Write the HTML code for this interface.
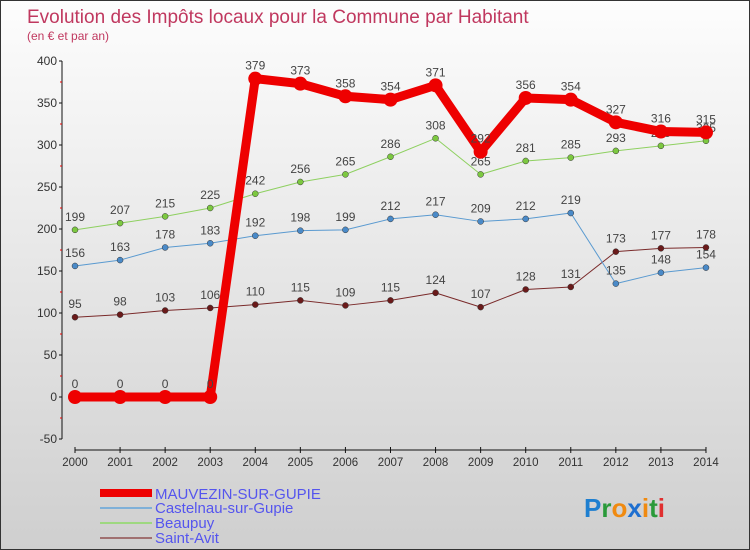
<!DOCTYPE html>
<html><head><meta charset="utf-8"><style>
body{margin:0}
#wrap{position:relative;width:748px;height:548px;border:1px solid #333;background:linear-gradient(#fdfdfd,#e6e6e6 50%,#cfcfcf);font-family:"Liberation Sans",sans-serif;overflow:hidden}
</style></head><body>
<div id="wrap">
<svg id="svg" width="748" height="548">
<text x="26" y="22" font-size="19" fill="#c0385f">Evolution des Impôts locaux pour la Commune par Habitant</text>
<text x="26" y="39" font-size="12" fill="#c0385f">(en € et par an)</text>
<g id="axes"></g><g id="series"></g>
<g>
<rect x="99" y="488" width="52" height="8" fill="#e00"/>
<text x="154" y="498" font-size="15" fill="#5555ee">MAUVEZIN-SUR-GUPIE</text>
<rect x="99" y="506" width="52" height="2" fill="#7fb0d8"/>
<text x="154" y="512" font-size="15" fill="#5555ee">Castelnau-sur-Gupie</text>
<rect x="99" y="521" width="52" height="2" fill="#9ed880"/>
<text x="154" y="527" font-size="15" fill="#5555ee">Beaupuy</text>
<rect x="99" y="536" width="52" height="2" fill="#a07070"/>
<text x="154" y="542" font-size="15" fill="#5555ee">Saint-Avit</text>
</g>
<text x="583" y="516" font-size="26" font-weight="bold"><tspan fill="#1e7fd0">P</tspan><tspan fill="#2a9a3a">r</tspan><tspan fill="#f08a10">o</tspan><tspan fill="#1e6fd0">x</tspan><tspan fill="#f08a10">i</tspan><tspan fill="#2a9a3a">t</tspan><tspan fill="#e03030">i</tspan></text>
</svg></div>
<script>
const years=[2000,2001,2002,2003,2004,2005,2006,2007,2008,2009,2010,2011,2012,2013,2014];
const mauvezin=[0,0,0,0,379,373,358,354,371,292,356,354,327,316,315];
const castelnau=[156,163,178,183,192,198,199,212,217,209,212,219,135,148,154];
const beaupuy=[199,207,215,225,242,256,265,286,308,265,281,285,293,299,305];
const saintAvit=[95,98,103,106,110,115,109,115,124,107,128,131,173,177,178];
const yTicks=[-50,0,50,100,150,200,250,300,350,400];
const NS="http://www.w3.org/2000/svg";
const X=i=>74+i*45.07, Y=v=>396-v*0.84;
function mk(p,t,a){const e=document.createElementNS(NS,t);for(const k in a)e.setAttribute(k,a[k]);p.appendChild(e);return e;}
const ax=document.getElementById('axes'),sr=document.getElementById('series');
let l=mk(ax,'line',{x1:61,y1:Y(400),x2:61,y2:Y(-50),stroke:'#111'});

l=mk(ax,'line',{x1:X(0),y1:449,x2:X(14),y2:449,stroke:'#111'});

yTicks.forEach((v,i)=>{mk(ax,'line',{x1:58,y1:Y(v),x2:61,y2:Y(v),stroke:'#111'});
 if(i<yTicks.length-1)mk(ax,'line',{x1:59,y1:Y(v+25),x2:61,y2:Y(v+25),stroke:'#e00'});
 const t=mk(ax,'text',{x:56,y:Y(v)+4,'font-size':12,'text-anchor':'end',fill:'#333'});t.textContent=v;
 });
years.forEach((y,i)=>{mk(ax,'line',{x1:X(i),y1:446,x2:X(i),y2:452,stroke:'#111'});
 const t=mk(ax,'text',{x:X(i),y:465,'font-size':11.5,'text-anchor':'middle',fill:'#333'});t.textContent=y;
 });
function series(d,col,w,r,fill,name){
 const p=mk(sr,'polyline',{points:d.map((v,i)=>X(i)+','+Y(v)).join(' '),fill:'none',stroke:col,'stroke-width':w,'stroke-linejoin':'round'});
 
 d.forEach((v,i)=>{const c=mk(sr,'circle',{cx:X(i),cy:Y(v),r:r,fill:fill,stroke:r>4?'none':'#333','stroke-width':0.5});
  
  const t=mk(sr,'text',{x:X(i),y:Y(v)-9,'font-size':12,'text-anchor':'middle',fill:'#444'});t.textContent=v;
  });
}
series(saintAvit,'#7a2a2a',1,3,'#6a1a1a','saint-avit');
series(castelnau,'#5a9ad0',1,3,'#4a8ac8','castelnau');
series(beaupuy,'#8ed060',1,3,'#7cc840','beaupuy');
series(mauvezin,'#ee0000',9,7,'#ee0000','mauvezin');
</script>
</body></html>
